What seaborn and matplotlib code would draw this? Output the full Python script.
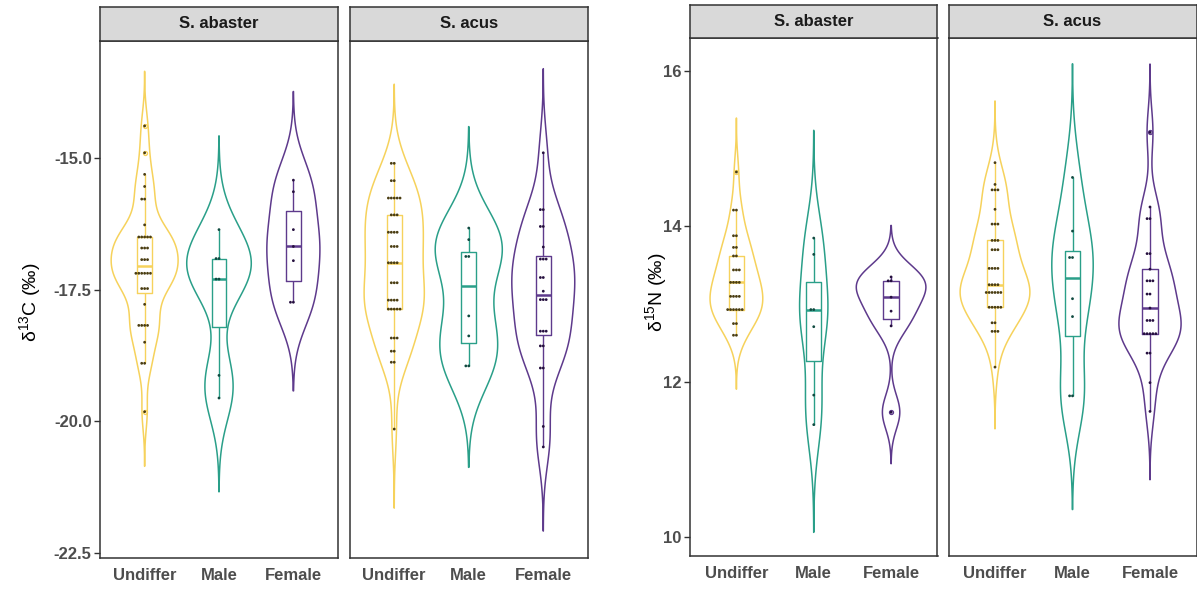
import numpy as np
import pandas as pd
import matplotlib
matplotlib.use("Agg")
import matplotlib.pyplot as plt
import seaborn as sns

sexes = ["Undiffer", "Male", "Female"]
species = ["S. abaster", "S. acus"]
palette = {"Undiffer": "#F6D25C", "Male": "#2A9F89", "Female": "#5E3A8C"}
dot_palette = {"Undiffer": "#4A3D12", "Male": "#104A40", "Female": "#26103F"}

# delta 13C (per mil), one list per species x sex
d13c_abaster_undiffer = [-14.39, -14.90, -15.31, -15.54, -15.78, -15.78, -16.27,
                         -16.50, -16.50, -16.50, -16.50, -16.50,
                         -16.71, -16.71, -16.71, -16.93, -16.93, -16.93,
                         -17.19, -17.19, -17.19, -17.19, -17.19, -17.19,
                         -17.48, -17.48, -17.48, -17.78,
                         -18.18, -18.18, -18.18, -18.18, -18.50, -18.90, -18.90, -19.82]
d13c_abaster_male = [-16.36, -16.91, -16.91, -17.30, -17.30, -19.13, -19.56]
d13c_abaster_female = [-15.42, -15.64, -16.36, -16.68, -16.95, -17.74, -17.74]
d13c_acus_undiffer = [-15.10, -15.10, -15.43, -15.43,
                      -15.76, -15.76, -15.76, -15.76, -15.76,
                      -16.08, -16.08, -16.08, -16.41, -16.41, -16.41, -16.41,
                      -16.68, -16.68, -16.68, -16.99, -16.99, -16.99, -16.99,
                      -17.37, -17.37, -17.37, -17.70, -17.70, -17.70, -17.70,
                      -17.87, -17.87, -17.87, -17.87, -17.87,
                      -18.42, -18.42, -18.42, -18.67, -18.67, -18.88, -18.88, -20.15]
d13c_acus_male = [-16.33, -16.55, -16.87, -16.87, -18.00, -18.38, -18.95, -18.95]
d13c_acus_female = [-14.90, -15.98, -15.98, -16.30, -16.30, -16.69,
                    -16.92, -16.92, -16.92, -17.27, -17.27, -17.53,
                    -17.69, -17.69, -17.69, -18.29, -18.29, -18.29,
                    -18.57, -18.57, -18.99, -18.99, -20.10, -20.49]

# delta 15N (per mil), one list per species x sex
d15n_abaster_undiffer = [14.70, 14.21, 14.21, 13.88, 13.88, 13.73, 13.73, 13.62, 13.62,
                         13.44, 13.44, 13.44, 13.28, 13.28, 13.28, 13.28,
                         13.10, 13.10, 13.10, 13.10,
                         12.93, 12.93, 12.93, 12.93, 12.93, 12.93,
                         12.75, 12.75, 12.60, 12.60]
d15n_abaster_male = [13.85, 13.64, 12.93, 12.93, 12.71, 11.83, 11.45]
d15n_abaster_female = [13.35, 13.30, 13.30, 13.09, 12.91, 12.72, 11.61]
d15n_acus_undiffer = [14.82, 14.54, 14.47, 14.47, 14.47, 14.22, 14.03, 14.03, 14.03,
                      13.82, 13.82, 13.82, 13.70, 13.70, 13.70,
                      13.46, 13.46, 13.46, 13.46, 13.25, 13.25, 13.25, 13.25,
                      13.15, 13.15, 13.15, 13.15, 13.15, 13.15,
                      12.96, 12.96, 12.96, 12.96, 12.96,
                      12.76, 12.76, 12.65, 12.65, 12.65, 12.19]
d15n_acus_male = [14.63, 13.94, 13.60, 13.60, 13.07, 12.84, 11.82, 11.82]
d15n_acus_female = [15.21, 14.25, 14.10, 14.10, 13.65, 13.65, 13.45,
                    13.30, 13.30, 13.30, 13.13, 13.13, 12.95,
                    12.79, 12.79, 12.79, 12.62, 12.62, 12.62, 12.62, 12.62,
                    12.37, 12.37, 11.99, 11.62]

groups = {
    ("C", "S. abaster", "Undiffer"): d13c_abaster_undiffer,
    ("C", "S. abaster", "Male"): d13c_abaster_male,
    ("C", "S. abaster", "Female"): d13c_abaster_female,
    ("C", "S. acus", "Undiffer"): d13c_acus_undiffer,
    ("C", "S. acus", "Male"): d13c_acus_male,
    ("C", "S. acus", "Female"): d13c_acus_female,
    ("N", "S. abaster", "Undiffer"): d15n_abaster_undiffer,
    ("N", "S. abaster", "Male"): d15n_abaster_male,
    ("N", "S. abaster", "Female"): d15n_abaster_female,
    ("N", "S. acus", "Undiffer"): d15n_acus_undiffer,
    ("N", "S. acus", "Male"): d15n_acus_male,
    ("N", "S. acus", "Female"): d15n_acus_female,
}
rows = [(iso, sp, sx, v) for (iso, sp, sx), vals in groups.items() for v in vals]
df = pd.DataFrame(rows, columns=["isotope", "species", "sex", "value"])


def nrd0(kde):
    """Silverman's rule of thumb (R's bw.nrd0) as a factor of the sample sd."""
    x = np.asarray(kde.dataset).ravel()
    sd = x.std(ddof=1)
    iqr = np.subtract(*np.percentile(x, [75, 25]))
    lo = min(sd, iqr / 1.34) if iqr > 0 else sd
    bw = 0.9 * lo * len(x) ** (-0.2)
    return bw / sd


sns.set_style("white")
plt.rcParams["font.family"] = ["Liberation Sans", "DejaVu Sans"]
plt.rcParams["mathtext.default"] = "regular"

W, H = 1197, 594
fig = plt.figure(figsize=(W / 100, H / 100), dpi=100)
fig.patch.set_facecolor("white")


def px_axes(x0, y0, x1, y1):
    return fig.add_axes([x0 / W, 1 - y1 / H, (x1 - x0) / W, (y1 - y0) / H])


EDGE = "#333333"
TICKC = "#4D4D4D"

panels = [
    dict(iso="C", facets=[(100, 338), (349.5, 588)], py=(40.7, 558), sy=(7, 40.7),
         ylim=(-22.6, -12.77), yticks=[-22.5, -20.0, -17.5, -15.0], fmt="{:.1f}",
         label="δ$^{13}$C (‰)", lx=30, ly=302),
    dict(iso="N", facets=[(690, 937.5), (948.5, 1196.5)], py=(38.3, 556), sy=(5, 38.3),
         ylim=(9.76, 16.42), yticks=[10, 12, 14, 16], fmt="{:d}",
         label="δ$^{15}$N (‰)", lx=656, ly=292),
]

for p in panels:
    for i, (sp, (x0, x1)) in enumerate(zip(species, p["facets"])):
        ax = px_axes(x0, p["py"][0], x1, p["py"][1])
        sub = df[(df.isotope == p["iso"]) & (df.species == sp)]
        sns.violinplot(data=sub, x="sex", y="value", hue="sex", order=sexes,
                       hue_order=sexes, palette=palette, fill=False, inner=None,
                       cut=3, bw_method=nrd0, gridsize=512, density_norm="area",
                       common_norm=True, width=0.9, linewidth=1.1, legend=False, ax=ax)
        sns.boxplot(data=sub, x="sex", y="value", hue="sex", order=sexes,
                    hue_order=sexes, palette=palette, fill=False, width=0.2,
                    linewidth=1.0, showcaps=False, fliersize=2.8,
                    flierprops=dict(marker="o"), medianprops=dict(linewidth=1.8),
                    legend=False, ax=ax)
        sns.swarmplot(data=sub, x="sex", y="value", hue="sex", order=sexes,
                      hue_order=sexes, palette=dot_palette, size=2.0, linewidth=0,
                      legend=False, ax=ax, zorder=5)
        ax.set_xlim(-0.6, 2.6)
        ax.set_ylim(*p["ylim"])
        ax.set_xlabel("")
        ax.set_ylabel("")
        for s in ax.spines.values():
            s.set_visible(True)
            s.set_color(EDGE)
            s.set_linewidth(1.1)
        ax.tick_params(axis="x", length=4, width=1, color=EDGE, labelsize=12,
                       labelcolor=TICKC, pad=3)
        for t in ax.get_xticklabels():
            t.set_fontweight("bold")
        if i == 0:
            ax.set_yticks(p["yticks"])
            ax.set_yticklabels([p["fmt"].format(v) for v in p["yticks"]],
                               fontweight="bold")
            ax.tick_params(axis="y", length=4, width=1, color=EDGE, labelsize=12,
                           labelcolor=TICKC, pad=2, left=True)
        else:
            ax.set_yticks([])

        sax = px_axes(x0, p["sy"][0], x1, p["sy"][1])
        sax.set_facecolor("#D9D9D9")
        sax.set_xticks([])
        sax.set_yticks([])
        for s in sax.spines.values():
            s.set_visible(True)
            s.set_color(EDGE)
            s.set_linewidth(1.1)
        sax.text(0.5, 0.5, sp, ha="center", va="center", fontsize=12,
                 fontweight="bold", color="#1A1A1A", transform=sax.transAxes)

    fig.text(p["lx"] / W, 1 - p["ly"] / H, p["label"], rotation=90, ha="center",
             va="center", fontsize=14, color="black")

fig.savefig("out.png", dpi=100)
